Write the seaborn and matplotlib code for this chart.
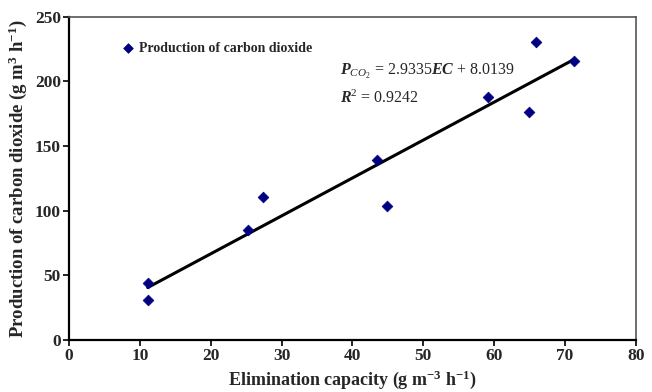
import matplotlib
matplotlib.use("Agg")
import matplotlib.pyplot as plt
import seaborn as sns
import pandas as pd

ec = [11.1, 11.1, 25.3, 27.4, 43.5, 44.9, 59.2, 64.9, 65.9, 71.3]
pco2 = [43.9, 30.7, 85.4, 110.9, 139.0, 103.7, 188.0, 176.7, 230.4, 216.2]
xticks = [0, 10, 20, 30, 40, 50, 60, 70, 80]
yticks = [0, 50, 100, 150, 200, 250]

df = pd.DataFrame({"EC": ec, "P": pco2})

sns.set_style("white")
plt.rcParams['font.family'] = ['Liberation Serif', 'DejaVu Serif']
plt.rcParams['mathtext.fontset'] = 'custom'
plt.rcParams['mathtext.rm'] = 'Liberation Serif'
plt.rcParams['mathtext.it'] = 'Liberation Serif:italic'
plt.rcParams['mathtext.bf'] = 'Liberation Serif:bold'
plt.rcParams['mathtext.bfit'] = 'Liberation Serif:bold:italic'

fig = plt.figure(figsize=(6.52, 3.92), dpi=100)
ax = fig.add_axes([0.106, 0.133, 0.869, 0.824])

sns.regplot(data=df, x="EC", y="P", ax=ax, ci=None, scatter=False,
            line_kws=dict(color="black", lw=2.2))
sns.scatterplot(data=df, x="EC", y="P", ax=ax, marker="D", s=30,
                color="#000080", edgecolor="#000080", linewidth=0.5,
                label="Production of carbon dioxide", zorder=3)

ax.set_xlim(0, 80)
ax.set_ylim(0, 250)
ax.set_xticks(xticks)
ax.set_yticks(yticks)
for lab in ax.get_xticklabels() + ax.get_yticklabels():
    lab.set_fontweight("bold")
    lab.set_fontsize(12.5)
ax.tick_params(axis="both", direction="out", length=4, width=1.2, color="black",
               bottom=True, left=True, pad=2)

ax.set_xlabel(r"Elimination capacity (g m$^{\mathbf{-3}}$ h$^{\mathbf{-1}}$)",
              fontsize=13, fontweight="bold", labelpad=3)
ax.set_ylabel(r"Production of carbon dioxide (g m$^{\mathbf{3}}$ h$^{\mathbf{-1}}$)",
              fontsize=13.5, fontweight="bold", labelpad=4)

for s in ["left", "bottom"]:
    ax.spines[s].set_color("black")
    ax.spines[s].set_linewidth(1.6)
for s in ["top", "right"]:
    ax.spines[s].set_color("#555555")
    ax.spines[s].set_linewidth(1.2)

leg = ax.legend(loc="center left", bbox_to_anchor=(0.07, 0.902), frameon=False,
                handletextpad=-0.2, borderaxespad=0, markerscale=0.9,
                prop={"family": "Liberation Serif", "weight": "bold", "size": 10})

ax.text(0.478, 0.82, r"$\mathbfit{P}_{\mathit{CO}_2}$ = 2.9335$\mathbfit{EC}$ + 8.0139",
        transform=ax.transAxes, fontsize=11.5, ha="left", va="baseline")
ax.text(0.478, 0.733, r"$\mathbfit{R}^2$ = 0.9242",
        transform=ax.transAxes, fontsize=11.5, ha="left", va="baseline")

fig.savefig("out.png", dpi=100)
